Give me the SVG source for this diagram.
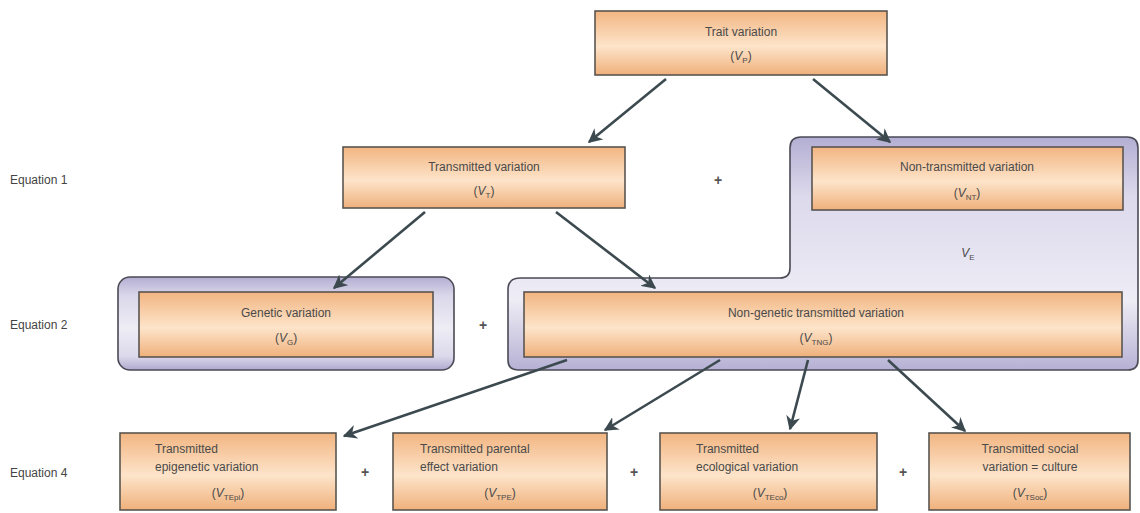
<svg xmlns="http://www.w3.org/2000/svg" width="1140" height="513" viewBox="0 0 1140 513">
<defs>
<linearGradient id="og" x1="0" y1="0" x2="0" y2="1">
<stop offset="0" stop-color="#f2b581"/>
<stop offset="0.55" stop-color="#fde4ca"/>
<stop offset="1" stop-color="#efb07b"/>
</linearGradient>
<linearGradient id="pg" x1="0" y1="0" x2="0" y2="1">
<stop offset="0" stop-color="#b3aed2"/>
<stop offset="0.25" stop-color="#dcd9ec"/>
<stop offset="0.7" stop-color="#eeecf5"/>
<stop offset="1" stop-color="#b6b1d4"/>
</linearGradient>
<linearGradient id="pg2" x1="0" y1="0" x2="0" y2="1">
<stop offset="0" stop-color="#b3aed2"/>
<stop offset="0.2" stop-color="#dad7ea"/>
<stop offset="0.55" stop-color="#eeedf5"/>
<stop offset="0.85" stop-color="#dcd9eb"/>
<stop offset="1" stop-color="#afaacf"/>
</linearGradient>
<marker id="ah" viewBox="0 0 10 10" refX="9" refY="5" markerWidth="5.5" markerHeight="5.5" orient="auto" markerUnits="strokeWidth">
<path d="M0,0 L10,5 L0,10 L3,5 Z" fill="#3c4a50"/>
</marker>
<style>
.box{fill:url(#og);stroke:#5a5550;stroke-width:1.6}
.grp{stroke:#4a4a55;stroke-width:1.6}
.t{font-family:"Liberation Sans",Arial,sans-serif;font-size:12px;fill:#4a4a4a}
.eq{font-family:"Liberation Sans",Arial,sans-serif;font-size:12px;fill:#444}
.plus{font-family:"Liberation Sans",Arial,sans-serif;font-size:14px;fill:#555;font-weight:bold}
.sub{font-size:8px;font-style:normal}
.v{font-style:italic}
.c{stroke:#3c4a50;stroke-width:2.6;fill:none;marker-end:url(#ah)}
</style>
</defs>
<rect width="1140" height="513" fill="#ffffff"/>

<g id="group-VE">
<path class="grp" fill="url(#pg)" d="M508,290 Q508,278 520,278 L780,278 Q790,278 790,268 L790,148 Q790,137 801,137 L1127,137 Q1138,137 1138,148 L1138,360 Q1138,370 1128,370 L518,370 Q508,370 508,360 Z"/>
<text class="t" x="968" y="257" text-anchor="middle"><tspan class="v">V</tspan><tspan class="sub" dy="3">E</tspan></text>
</g>

<g id="group-VG">
<rect class="grp" fill="url(#pg2)" x="118" y="277" width="336" height="93" rx="12"/>
</g>

<g id="labels">
<text class="eq" x="10" y="184">Equation 1</text>
<text class="eq" x="10" y="329">Equation 2</text>
<text class="eq" x="10" y="477">Equation 4</text>
<text class="plus" x="718" y="185" text-anchor="middle">+</text>
<text class="plus" x="483" y="330" text-anchor="middle">+</text>
<text class="plus" x="365" y="477" text-anchor="middle">+</text>
<text class="plus" x="634" y="477" text-anchor="middle">+</text>
<text class="plus" x="903" y="477" text-anchor="middle">+</text>
</g>

<g id="node-VP">
<rect class="box" x="595" y="11" width="292" height="64"/>
<text class="t" x="741" y="36" text-anchor="middle">Trait variation</text>
<text class="t" x="741" y="60" text-anchor="middle">(<tspan class="v">V</tspan><tspan class="sub" dy="3">P</tspan><tspan dy="-3">)</tspan></text>
</g>

<g id="node-VT">
<rect class="box" x="343" y="147" width="282" height="61"/>
<text class="t" x="484" y="171" text-anchor="middle">Transmitted variation</text>
<text class="t" x="484" y="195" text-anchor="middle">(<tspan class="v">V</tspan><tspan class="sub" dy="3">T</tspan><tspan dy="-3">)</tspan></text>
</g>

<g id="node-VNT">
<rect class="box" x="812" y="147" width="311" height="63"/>
<text class="t" x="967" y="171" text-anchor="middle">Non-transmitted variation</text>
<text class="t" x="967" y="197" text-anchor="middle">(<tspan class="v">V</tspan><tspan class="sub" dy="3">NT</tspan><tspan dy="-3">)</tspan></text>
</g>

<g id="node-VG">
<rect class="box" x="139" y="292" width="294" height="65"/>
<text class="t" x="286" y="317" text-anchor="middle">Genetic variation</text>
<text class="t" x="286" y="342" text-anchor="middle">(<tspan class="v">V</tspan><tspan class="sub" dy="3">G</tspan><tspan dy="-3">)</tspan></text>
</g>

<g id="node-VTNG">
<rect class="box" x="524" y="292" width="598" height="65"/>
<text class="t" x="816" y="317" text-anchor="middle">Non-genetic transmitted variation</text>
<text class="t" x="816" y="342" text-anchor="middle">(<tspan class="v">V</tspan><tspan class="sub" dy="3">TNG</tspan><tspan dy="-3">)</tspan></text>
</g>

<g id="node-VTEpi">
<rect class="box" x="120" y="433" width="216" height="77"/>
<text class="t" x="155" y="453">Transmitted</text>
<text class="t" x="155" y="471">epigenetic variation</text>
<text class="t" x="228" y="497" text-anchor="middle">(<tspan class="v">V</tspan><tspan class="sub" dy="3">TEpi</tspan><tspan dy="-3">)</tspan></text>
</g>

<g id="node-VTPE">
<rect class="box" x="393" y="433" width="214" height="77"/>
<text class="t" x="420" y="453">Transmitted parental</text>
<text class="t" x="420" y="471">effect variation</text>
<text class="t" x="500" y="497" text-anchor="middle">(<tspan class="v">V</tspan><tspan class="sub" dy="3">TPE</tspan><tspan dy="-3">)</tspan></text>
</g>

<g id="node-VTEco">
<rect class="box" x="660" y="433" width="217" height="77"/>
<text class="t" x="696" y="453">Transmitted</text>
<text class="t" x="696" y="471">ecological variation</text>
<text class="t" x="770" y="497" text-anchor="middle">(<tspan class="v">V</tspan><tspan class="sub" dy="3">TEco</tspan><tspan dy="-3">)</tspan></text>
</g>

<g id="node-VTSoc">
<rect class="box" x="929" y="433" width="201" height="77"/>
<text class="t" x="1030" y="453" text-anchor="middle">Transmitted social</text>
<text class="t" x="1030" y="471" text-anchor="middle">variation = culture</text>
<text class="t" x="1030" y="497" text-anchor="middle">(<tspan class="v">V</tspan><tspan class="sub" dy="3">TSoc</tspan><tspan dy="-3">)</tspan></text>
</g>

<g id="connectors">
<line class="c" x1="666" y1="79" x2="589" y2="142"/>
<line class="c" x1="813" y1="79" x2="890" y2="142"/>
<line class="c" x1="425" y1="212" x2="334" y2="288"/>
<line class="c" x1="556" y1="212" x2="655" y2="288"/>
<line class="c" x1="567" y1="360" x2="344" y2="436"/>
<line class="c" x1="720" y1="360" x2="605" y2="430"/>
<line class="c" x1="808" y1="360" x2="790" y2="429"/>
<line class="c" x1="888" y1="360" x2="965" y2="431"/>
</g>
</svg>
